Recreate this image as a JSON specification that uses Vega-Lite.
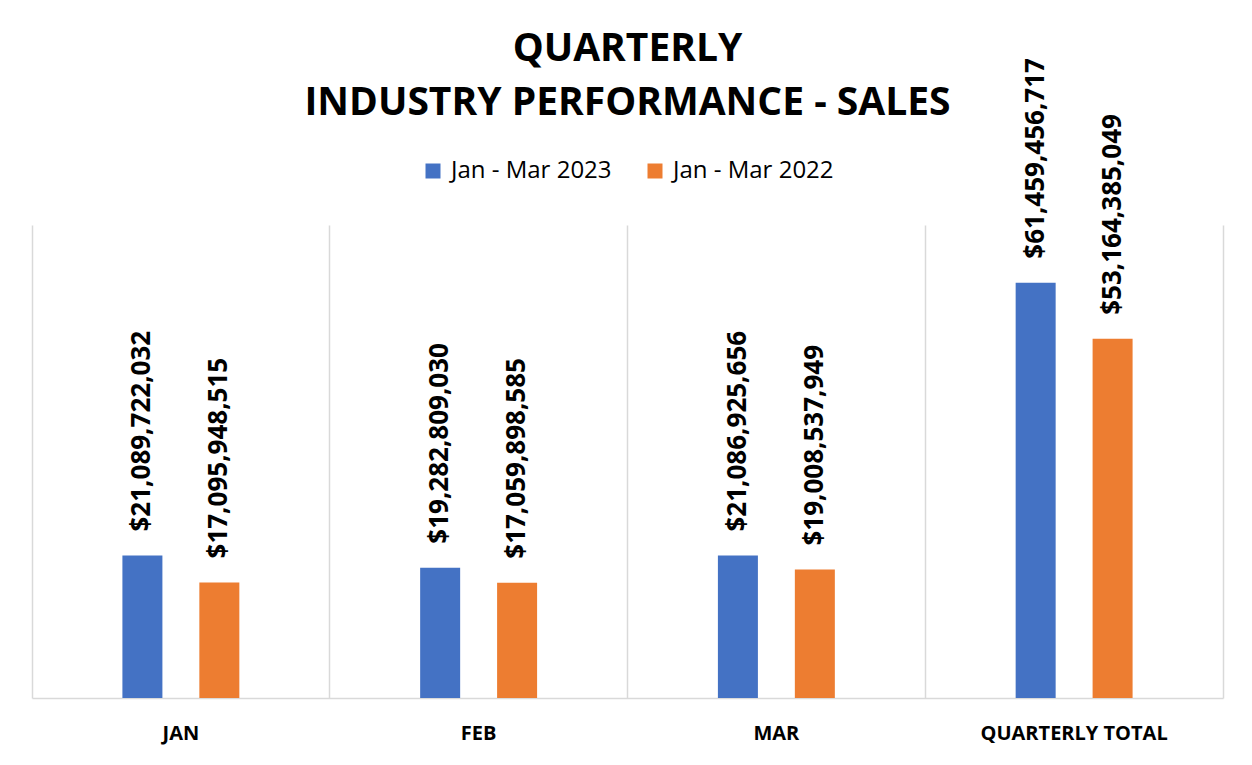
{
  "$schema": "https://vega.github.io/schema/vega-lite/v6.json",
  "autosize": {"type": "none"},
  "width": 1191,
  "height": 473,
  "padding": {"left": 32, "top": 225, "right": 29, "bottom": 67},
  "background": "white",
  "title": {
    "text": ["QUARTERLY", "INDUSTRY PERFORMANCE - SALES"],
    "font": "Open Sans",
    "fontSize": 39,
    "fontWeight": "bold",
    "color": "#000000",
    "lineHeight": 54,
    "anchor": "middle",
    "offset": -65
  },
  "data": {
    "values": [
      {"month": "JAN", "series": "Jan - Mar 2023", "sales": 21089722032},
      {"month": "JAN", "series": "Jan - Mar 2022", "sales": 17095948515},
      {"month": "FEB", "series": "Jan - Mar 2023", "sales": 19282809030},
      {"month": "FEB", "series": "Jan - Mar 2022", "sales": 17059898585},
      {"month": "MAR", "series": "Jan - Mar 2023", "sales": 21086925656},
      {"month": "MAR", "series": "Jan - Mar 2022", "sales": 19008537949},
      {"month": "QUARTERLY TOTAL", "series": "Jan - Mar 2023", "sales": 61459456717},
      {"month": "QUARTERLY TOTAL", "series": "Jan - Mar 2022", "sales": 53164385049}
    ]
  },
  "encoding": {
    "x": {
      "field": "month",
      "type": "nominal",
      "sort": ["JAN", "FEB", "MAR", "QUARTERLY TOTAL"],
      "scale": {"paddingInner": 0, "paddingOuter": 0},
      "axis": {
        "title": null,
        "labelAngle": 0,
        "labelFont": "Open Sans",
        "labelFontSize": 20,
        "labelFontWeight": "bold",
        "labelColor": "#000000",
        "labelPadding": 25,
        "labelLimit": 400,
        "ticks": false,
        "grid": true,
        "gridColor": "#D9D9D9",
        "gridWidth": 1.5,
        "bandPosition": 0,
        "domainColor": "#D9D9D9",
        "domainWidth": 1.5
      }
    },
    "xOffset": {
      "field": "series",
      "type": "nominal",
      "sort": ["Jan - Mar 2023", "Jan - Mar 2022"],
      "scale": {"paddingInner": 0.13, "paddingOuter": 1}
    },
    "y": {
      "field": "sales",
      "type": "quantitative",
      "scale": {"domain": [0, 70000000000], "nice": false, "zero": true},
      "axis": {
        "orient": "right",
        "title": null,
        "labels": false,
        "ticks": false,
        "grid": false,
        "domain": true,
        "domainColor": "#D9D9D9",
        "domainWidth": 1.5
      }
    }
  },
  "layer": [
    {
      "mark": {"type": "bar", "width": 40},
      "encoding": {
        "color": {
          "field": "series",
          "type": "nominal",
          "sort": ["Jan - Mar 2023", "Jan - Mar 2022"],
          "scale": {"domain": ["Jan - Mar 2023", "Jan - Mar 2022"], "range": ["#4472C4", "#ED7D31"]},
          "legend": {
            "title": null,
            "orient": "none",
            "legendX": 389,
            "legendY": -66,
            "direction": "horizontal",
            "symbolType": "square",
            "symbolSize": 225,
            "symbolStrokeWidth": 0,
            "symbolOpacity": 1,
            "labelFont": "Open Sans",
            "labelFontSize": 24,
            "labelColor": "#000000",
            "labelOffset": 6,
            "labelLimit": 400,
            "columnPadding": 31
          }
        }
      }
    },
    {
      "mark": {
        "type": "text",
        "angle": 270,
        "align": "left",
        "baseline": "middle",
        "dx": 24,
        "font": "Open Sans",
        "fontSize": 26,
        "fontWeight": "bold",
        "color": "#000000"
      },
      "encoding": {
        "text": {"field": "sales", "type": "quantitative", "format": "$,.0f"}
      }
    }
  ],
  "config": {
    "view": {"stroke": null}
  }
}
